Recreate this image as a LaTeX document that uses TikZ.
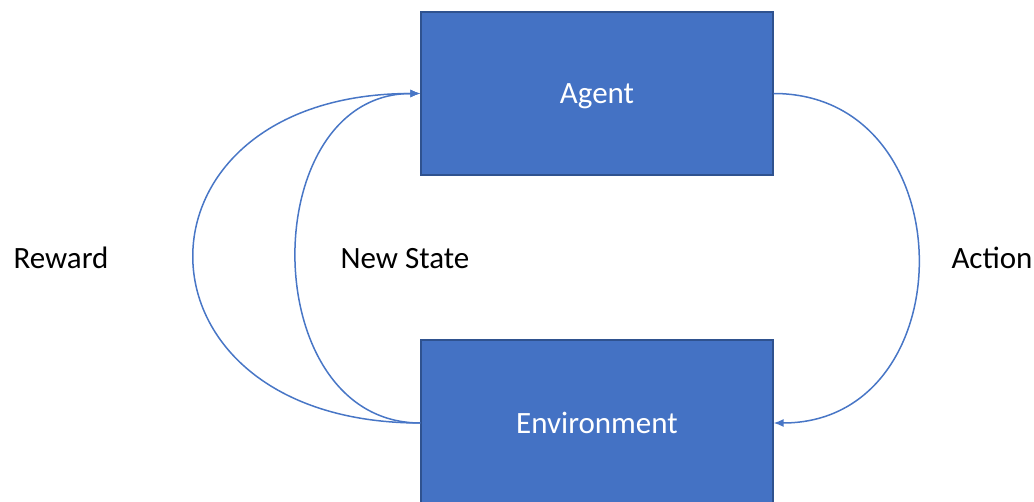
\documentclass[tikz,border=0pt]{standalone}
\usepackage{fontspec}
\setmainfont{Carlito}
\usetikzlibrary{arrows.meta}
\definecolor{boxblue}{RGB}{68,114,196}
\definecolor{edgeblue}{RGB}{47,82,143}
\definecolor{loopblue}{RGB}{72,118,198}

\begin{document}
\begin{tikzpicture}[x=1pt, y=1pt,
    box/.style={draw=edgeblue, line width=1.2pt, fill=boxblue, text=white,
      minimum width=352pt, inner sep=0pt, text height=21pt, text depth=0pt,
      font=\fontsize{31}{37}\selectfont},
    flow/.style={loopblue, line width=1.5pt, -{Latex[length=10pt, width=8pt]}},
    lbl/.style={font=\fontsize{31}{37}\selectfont}]

  \useasboundingbox (0,0) rectangle (1034,-502);

  % agent and environment
  \node[box, minimum height=163pt] (agent) at (597,-93.5) {Agent};
  \node[box, minimum height=166pt] (env) at (597,-423) {Environment};

  % the loop between them
  \draw[flow] (agent.east) to[out=0, in=0, looseness=1.5] (env.east);
  \draw[flow] (env.west) to[out=180, in=180, looseness=2.35] (agent.west);
  \draw[flow] (env.west) to[out=180, in=180, looseness=1.29] (agent.west);

  \node[lbl, anchor=west] (reward) at (10,-258) {Reward};
  \node[lbl] (state) at (405,-259) {New State};
  \node[lbl, anchor=west] (action) at (948,-258) {Action};

\end{tikzpicture}
\end{document}
